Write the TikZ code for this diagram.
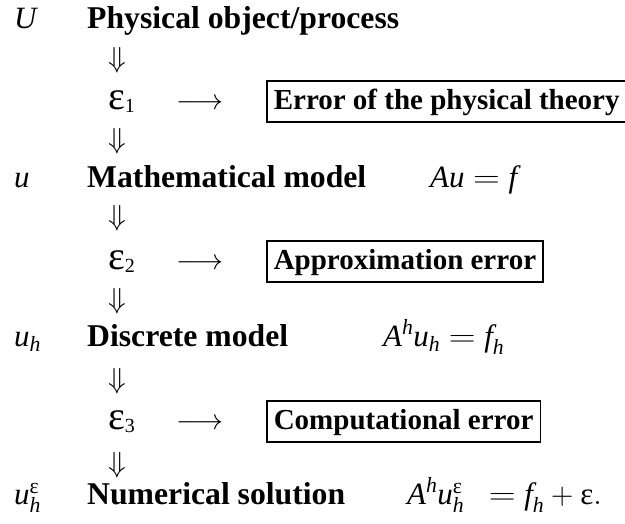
\RequirePackage{fix-cm}
\documentclass[tikz,border=0pt]{standalone}
\usepackage{amsmath}
\usepackage{graphicx}
\usepackage{fontspec}
\setmainfont{Liberation Serif}
\newcommand\vi[1]{\textit{#1}}
\newcommand\eps{\text{ε}}
\newcommand\eqsign{\mathrel{\scalebox{1.2}[1]{$=$}}}
\newcommand\bigeps[1]{{\fontsize{40}{40}\selectfont ε}\raisebox{-3pt}{\fontsize{20}{20}\selectfont #1}}
\begin{document}
\begin{tikzpicture}[x=1pt,y=1pt,
  txt/.style={inner sep=0pt, anchor=base west, font=\fontsize{31}{36}\selectfont},
  lbl/.style={inner sep=0pt, anchor=base west, font=\fontsize{31.7}{36}\selectfont\bfseries},
  darr/.style={inner sep=0pt, anchor=center, font=\fontsize{29}{35}\selectfont},
  rarr/.style={inner sep=0pt, anchor=base, font=\fontsize{29}{35}\selectfont},
  errbox/.style={draw, line width=1.6pt, inner xsep=7pt, inner ysep=6.2pt,
    text height=23pt, text depth=6pt, anchor=base west,
    font=\fontsize{29}{35}\selectfont\bfseries}]
\useasboundingbox (0,0) rectangle (625,524);
% left symbols
\node[txt] (sU) at (14,495) {\vi{U}};
\node[txt] (su) at (14,336) {\vi{u}};
\node[txt] (suh) at (14,177) {$\vi{u}_{\vi{h}}$};
\node[txt] (sue) at (14,19) {$\vi{u}_{\vi{h}}^{\eps}$};
% labels
\node[lbl] (phys) at (87,495) {Physical object/process};
\node[lbl] (math) at (87,336) {Mathematical model};
\node[lbl] (disc) at (87,177) {Discrete model};
\node[lbl] (num) at (87,19) {Numerical solution};
% equations
\node[txt] (eq1) at (430,336) {$\vi{A}\vi{u}\eqsign\vi{f}$};
\node[txt] (eq2) at (383,177) {$\vi{A}^{\vi{h}}\vi{u}_{\vi{h}}\eqsign\vi{f}_{\vi{h}}$};
\node[txt] (eq3) at (407,19) {$\vi{A}^{\vi{h}}\vi{u}_{\vi{h}}^{\eps}\hspace{16pt}\eqsign\vi{f}_{\vi{h}}+\eps.$};
% down arrows
\node[darr] (d1) at (117.5,464) {$\Downarrow$};
\node[darr] (d2) at (117.5,383) {$\Downarrow$};
\node[darr] (d3) at (117.5,306) {$\Downarrow$};
\node[darr] (d4) at (117.5,223) {$\Downarrow$};
\node[darr] (d5) at (117.5,143) {$\Downarrow$};
\node[darr] (d6) at (117.5,59) {$\Downarrow$};
% errors
\node[txt] (e1) at (108,414) {\bigeps{1}};
\node[txt] (e2) at (108,254) {\bigeps{2}};
\node[txt] (e3) at (108,94) {\bigeps{3}};
\node[rarr] (r1) at (200,414) {$\longrightarrow$};
\node[rarr] (r2) at (200,254) {$\longrightarrow$};
\node[rarr] (r3) at (200,94) {$\longrightarrow$};
\node[errbox] (b1) at (266,414) {Error of the physical theory};
\node[errbox] (b2) at (266,254) {Approximation error};
\node[errbox] (b3) at (266,94) {Computational error};
\end{tikzpicture}
\end{document}
